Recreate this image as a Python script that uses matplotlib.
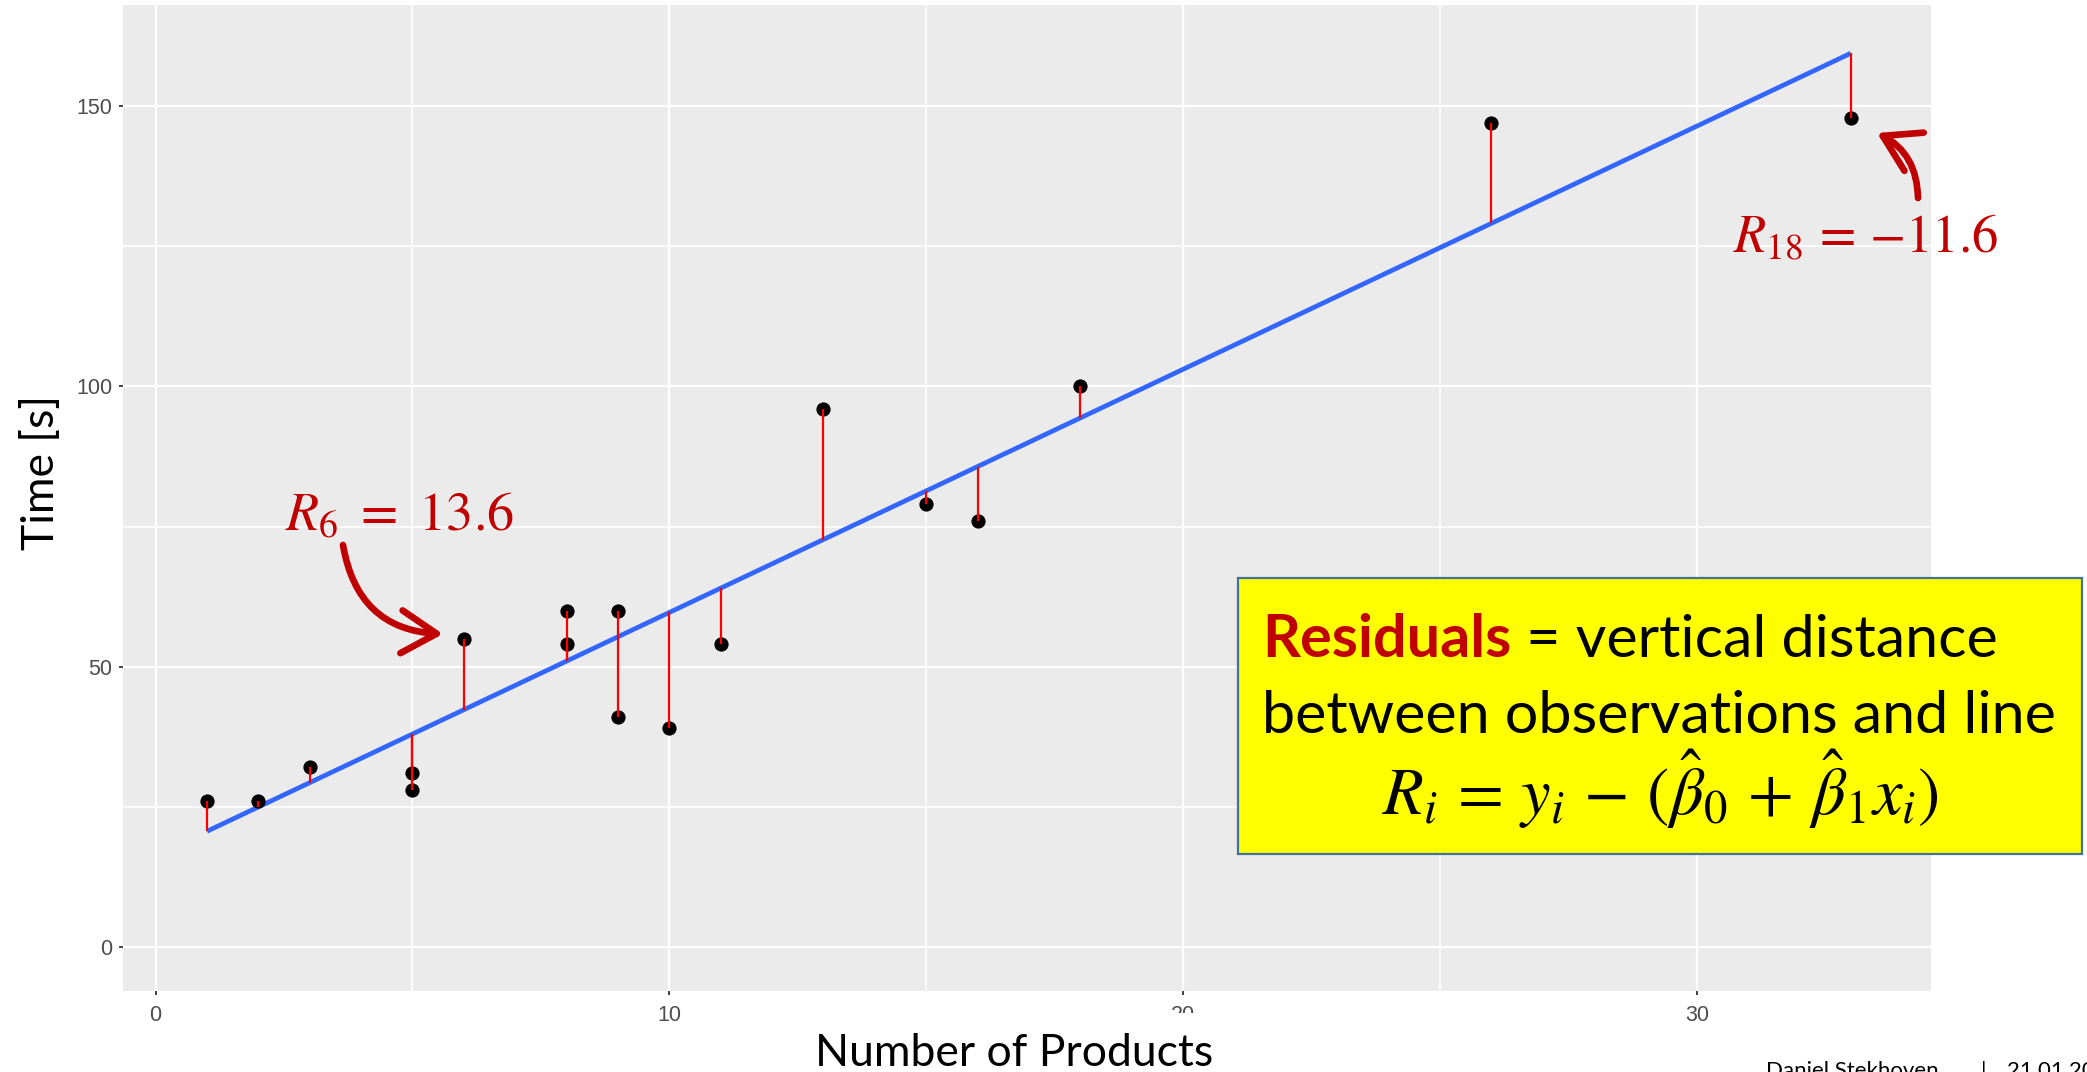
import numpy as np
import matplotlib
matplotlib.use("Agg")
import matplotlib.pyplot as plt
from matplotlib.patches import FancyArrowPatch, Rectangle
from matplotlib.text import Annotation

# observations: number of products vs. processing time
products = [1, 2, 3, 5, 5, 6, 8, 8, 9, 9, 10, 11, 13, 15, 16, 18, 26, 33]
time_s = [26, 26, 32, 31, 28, 55, 60, 54, 60, 41, 39, 54, 96, 79, 76, 100, 147, 148]

x_ticks = [0, 10, 20, 30]
x_minor = [5, 15, 25]
y_ticks = [0, 50, 100, 150]
y_minor = [25, 75, 125]

W, H, DPI = 2087, 1072, 100
DARK_RED = "#C00000"
SLIDE_FONT = "Lato"

plt.rcParams["font.family"] = ["Liberation Sans", "DejaVu Sans"]
plt.rcParams["mathtext.fontset"] = "stix"

fig = plt.figure(figsize=(W / DPI, H / DPI), dpi=DPI)
fig.patch.set_facecolor("white")


def fx(px):
    return px / W


def fy(py):
    return 1.0 - py / H


# ---- scatter plot with fitted regression line and residuals ----
ax = fig.add_axes([fx(122.7), fy(990.7), fx(1931) - fx(122.7), fy(5) - fy(990.7)])
ax.set_facecolor("#EBEBEB")
for sp in ax.spines.values():
    sp.set_visible(False)

x = np.asarray(products, dtype=float)
y = np.asarray(time_s, dtype=float)
slope, intercept = np.polyfit(x, y, 1)
fitted = intercept + slope * x

xs = np.linspace(x.min(), x.max(), 80)
ax.plot(xs, intercept + slope * xs, color="#3366FF", lw=3.4, zorder=3,
        solid_capstyle="butt")
ax.scatter(x, y, s=105, color="black", linewidths=0, zorder=4)
ax.vlines(x, y, fitted, colors="#FF0000", lw=1.6, zorder=5)

ax.set_xlim(-0.64, 34.56)
ax.set_ylim(-7.86, 168.1)
ax.set_xticks(x_ticks)
ax.set_xticks(x_minor, minor=True)
ax.set_yticks(y_ticks)
ax.set_yticks(y_minor, minor=True)
ax.set_axisbelow(True)
ax.grid(which="major", color="white", lw=1.6)
ax.grid(which="minor", color="white", lw=1.1)
ax.tick_params(which="major", length=3.1, width=1.3, color="#333333",
               labelsize=15.5, labelcolor="#4D4D4D")
ax.tick_params(axis="x", pad=7.0)
ax.tick_params(axis="y", pad=4.3)
ax.tick_params(which="minor", length=0)

# ---- axis titles ----
fig.add_artist(Rectangle((fx(800), fy(1072)), fx(1235) - fx(800), fy(1013) - fy(1072),
                         transform=fig.transFigure, facecolor="white",
                         edgecolor="none", zorder=5))
fig.text(fx(815), fy(1066), "Number of Products", fontsize=32, family=SLIDE_FONT,
         ha="left", va="baseline", color="black", zorder=6)
fig.text(fx(41), fy(472), "Time [s]", fontsize=32, family=SLIDE_FONT,
         rotation=90, ha="center", va="center", color="black", zorder=6)

# ---- residual call-outs ----
fig.text(fx(285), fy(530), r"$R_6\ =\ 13.6$", fontsize=39, color=DARK_RED,
         ha="left", va="baseline", zorder=6)
fig.add_artist(FancyArrowPatch((fx(343), fy(545)), (fx(443), fy(634)),
                               transform=fig.transFigure,
                               connectionstyle="arc3,rad=0.4",
                               arrowstyle="->,head_length=1.15,head_width=0.7",
                               mutation_scale=22, lw=4.8, color=DARK_RED,
                               shrinkA=0, shrinkB=0, zorder=6))

fig.text(fx(1733), fy(252), r"$R_{18}\,=\,{-}11.6$", fontsize=38, color=DARK_RED,
         ha="left", va="baseline", zorder=6)
fig.add_artist(FancyArrowPatch((fx(1918), fy(198)), (fx(1877), fy(133)),
                               transform=fig.transFigure,
                               connectionstyle="arc3,rad=0.3",
                               arrowstyle="->,head_length=1.15,head_width=0.7",
                               mutation_scale=22, lw=4.8, color=DARK_RED,
                               shrinkA=0, shrinkB=0, zorder=6))

# ---- definition box ----
fig.add_artist(Rectangle((fx(1238), fy(854)), fx(2082) - fx(1238), fy(578) - fy(854),
                         transform=fig.transFigure, facecolor="#FFFF00",
                         edgecolor="#41719C", lw=1.6, zorder=7))
t1 = fig.text(fx(1262), fy(657), "Residuals", fontsize=42.7, family=SLIDE_FONT,
              weight="bold", color=DARK_RED, ha="left", va="baseline", zorder=8)
fig.add_artist(Annotation(" = vertical distance", xy=(1, 0), xycoords=t1,
                          fontsize=42.7, family=SLIDE_FONT, color="black",
                          ha="left", va="bottom", zorder=8))
fig.text(fx(1262), fy(733), "between observations and line", fontsize=42.7,
         family=SLIDE_FONT, color="black", ha="left", va="baseline", zorder=8)
fig.text(fx(1660), fy(815),
         r"$R_i\,=\,y_i\,-\,(\hat{\beta}_0\,+\,\hat{\beta}_1 x_i)$",
         fontsize=48, color="black", ha="center", va="baseline", zorder=8)

# ---- footer ----
fig.text(fx(1766), fy(1061), "Daniel Stekhoven", fontsize=16, family=SLIDE_FONT,
         color="black", ha="left", va="top", zorder=6)
fig.text(fx(1981), fy(1061), "|", fontsize=16, family=SLIDE_FONT,
         color="black", ha="left", va="top", zorder=6)
fig.text(fx(2007), fy(1061), "21.01.2020", fontsize=16, family=SLIDE_FONT,
         color="black", ha="left", va="top", zorder=6)

fig.savefig("out.png", dpi=DPI, facecolor="white")
